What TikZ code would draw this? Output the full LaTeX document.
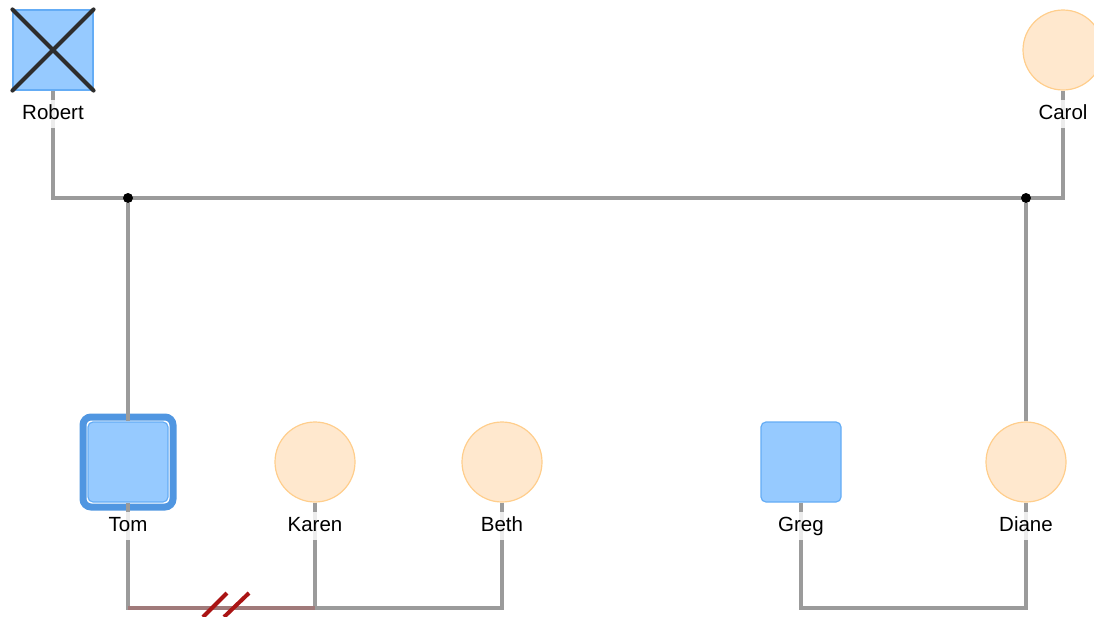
\documentclass[tikz,border=0pt]{standalone}
\usepackage{fontspec}
\setmainfont{Liberation Sans}
\definecolor{linegray}{RGB}{155,155,155}
\definecolor{malefill}{RGB}{150,202,255}
\definecolor{maledraw}{RGB}{100,172,245}
\definecolor{ringblue}{RGB}{80,150,225}
\definecolor{femfill}{RGB}{255,232,206}
\definecolor{femdraw}{RGB}{255,206,140}
\definecolor{divred}{RGB}{170,20,20}
\definecolor{divline}{RGB}{160,122,122}
\tikzset{
  male/.style={rectangle, minimum size=80pt, inner sep=0pt, fill=malefill, draw=maledraw, line width=1.2pt},
  female/.style={circle, minimum size=80pt, inner sep=0pt, fill=femfill, draw=femdraw, line width=1.2pt},
  ring/.style={rectangle, rounded corners=8pt, minimum size=90pt, inner sep=0pt, draw=ringblue, line width=7pt},
  conn/.style={draw=linegray, line width=3.5pt},
  namelabel/.style={anchor=base, fill=white, fill opacity=0.82, text opacity=1, inner xsep=2pt, inner ysep=5pt,
    text height=14pt, text depth=4pt, font=\fontsize{20.5}{24}\selectfont},
  joint/.style={circle, fill=black, minimum size=10pt, inner sep=0pt},
  crossline/.style={draw={rgb,255:red,45;green,45;blue,45}, line width=4pt, line cap=round},
  slash/.style={draw=divred, line width=4pt}
}
\begin{document}
\begin{tikzpicture}[x=1pt, y=-1pt]
\useasboundingbox (0,0) rectangle (1094,616);
% persons
\node[male] (robert) at (53,50) {};
\draw[crossline] (robert.north west) -- (robert.south east);
\draw[crossline] (robert.north east) -- (robert.south west);
\node[female] (carol) at (1063,50) {};
\node[ring] (tomring) at (128,462) {};
\node[male, rounded corners=5pt] (tom) at (128,462) {};
\node[female] (karen) at (315,462) {};
\node[female] (beth) at (502,462) {};
\node[male, rounded corners=5pt] (greg) at (801,462) {};
\node[female] (diane) at (1026,462) {};
% junction coordinates
\coordinate (rjoin) at (53,198);
\coordinate (cjoin) at (1063,198);
\coordinate (tomb) at (128,608);
\coordinate (gregb) at (801,608);
% connectors
\draw[conn] (robert.south) -- (rjoin) -- (cjoin) -- (carol.south);
\node[joint] (d1) at (128,198) {};
\node[joint] (d2) at (1026,198) {};
\draw[conn] (d1) -- (tom.north);
\draw[conn] (d2) -- (diane.north);
\draw[conn] (tom.south) -- (tomb) -| (beth.south);
\draw[conn] (karen.south) -- (karen.south |- tomb);
\draw[conn, draw=divline] (tomb) -- (karen.south |- tomb);
\draw[conn] (greg.south) -- (gregb) -| (diane.south);
% labels
\node[namelabel] (robertl) at (53,119) {Robert};
\node[namelabel] (caroll) at (1063,119) {Carol};
\node[namelabel] (toml) at (128,531) {Tom};
\node[namelabel] (karenl) at (315,531) {Karen};
\node[namelabel] (bethl) at (502,531) {Beth};
\node[namelabel] (gregl) at (801,531) {Greg};
\node[namelabel] (dianel) at (1026,531) {Diane};
% divorce marks
\coordinate (s1a) at (203,617); \coordinate (s1b) at (227,593);
\coordinate (s2a) at (224,617); \coordinate (s2b) at (249,593);
\draw[slash] (s1a) -- (s1b);
\draw[slash] (s2a) -- (s2b);
\end{tikzpicture}
\end{document}
